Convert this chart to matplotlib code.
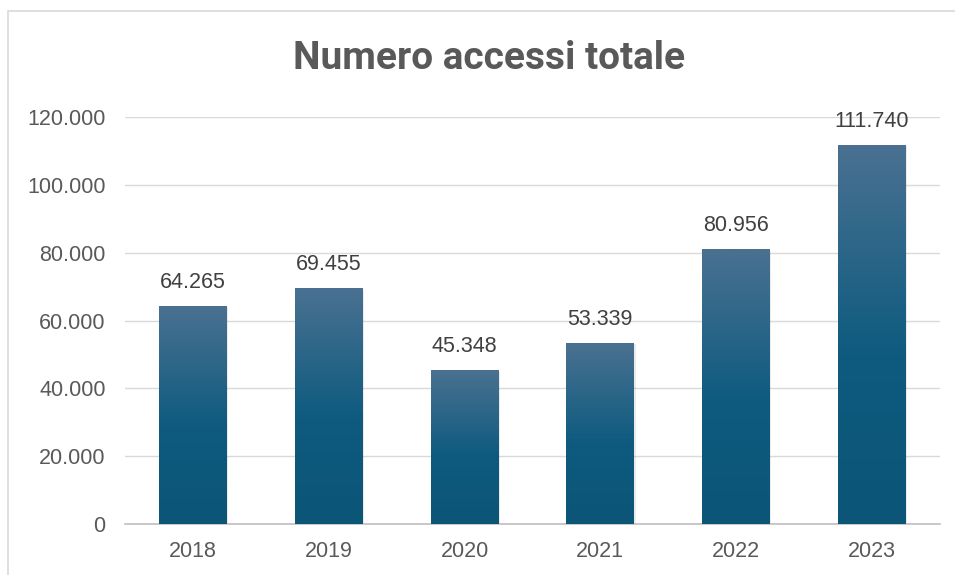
import numpy as np
import matplotlib
matplotlib.use("Agg")
import matplotlib.pyplot as plt
from matplotlib.colors import LinearSegmentedColormap
from matplotlib.patches import Rectangle

years = ["2018", "2019", "2020", "2021", "2022", "2023"]
accessi = [64265, 69455, 45348, 53339, 80956, 111740]
yticks = [0, 20000, 40000, 60000, 80000, 100000, 120000]

def fmt_it(v):
    # separatore delle migliaia all'italiana
    return f"{v:,}".replace(",", ".")

plt.rcParams['font.family'] = ['Liberation Sans', 'DejaVu Sans']

fig = plt.figure(figsize=(9.55, 5.75), dpi=100)
ax = fig.add_axes([0.131, 0.0887, 0.853, 0.7078])

# bordo grigio del riquadro
fig.patches.append(Rectangle((8/955, -0.1), 1.2, 0.981 + 0.1, transform=fig.transFigure,
                             fill=False, edgecolor="#d9d9d9", linewidth=1.2))

grad = LinearSegmentedColormap.from_list("g", [(0.0, "#0b5577"), (0.45, "#0e5b7f"), (1.0, "#4a7191")])
x = np.arange(len(years))
w = 0.5
for xi, h in zip(x, accessi):
    # ombra leggera
    ax.add_patch(Rectangle((xi - w/2 + 0.01, -400), w, h, facecolor="#000000", alpha=0.08,
                           edgecolor="none", zorder=2))
    img = np.linspace(0, 1, 256).reshape(-1, 1)
    ax.imshow(img, cmap=grad, origin="lower", aspect="auto",
              extent=[xi - w/2, xi + w/2, 0, h], zorder=3)
    ax.text(xi, h + 5300, fmt_it(h), ha="center", va="baseline", fontsize=15.5, color="#404040")

ax.set_xlim(-0.5, len(years) - 0.5)
ax.set_ylim(0, 120000)
ax.set_xticks(x)
ax.set_xticklabels(years)
ax.set_yticks(yticks)
ax.set_yticklabels([fmt_it(v) for v in yticks])
ax.tick_params(length=0, labelsize=15.5, labelcolor="#595959")
ax.tick_params(axis="x", pad=12)
ax.tick_params(axis="y", pad=14)
ax.grid(axis="y", color="#d9d9d9", linewidth=1)
ax.set_axisbelow(True)
for s in ["top", "right", "left"]:
    ax.spines[s].set_visible(False)
ax.spines["bottom"].set_color("#bfbfbf")
ax.spines["bottom"].set_linewidth(1.2)

fig.text(0.512, 0.899, "Numero accessi totale", ha="center", va="center",
         fontsize=28, fontweight="bold", color="#595959", family=["Roboto", "DejaVu Sans"])

fig.savefig("out.png", dpi=100)
